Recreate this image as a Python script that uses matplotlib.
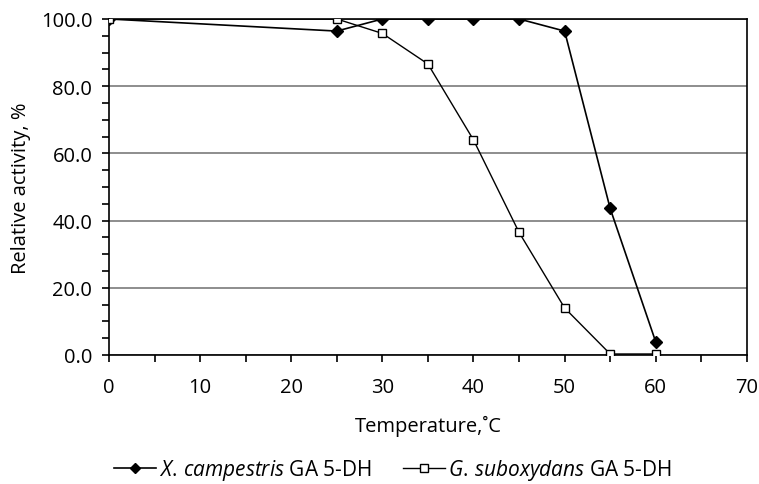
import matplotlib
matplotlib.use('Agg')
import matplotlib.pyplot as plt
from matplotlib.ticker import MultipleLocator, FormatStrFormatter

plt.rcParams['font.family'] = ['Open Sans', 'DejaVu Sans']
plt.rcParams['mathtext.fontset'] = 'custom'
plt.rcParams['mathtext.rm'] = 'Open Sans'
plt.rcParams['mathtext.it'] = 'Open Sans:italic'

temps = [0, 25, 30, 35, 40, 45, 50, 55, 60]
xc_activity = [100.0, 96.4, 100.0, 100.0, 100.0, 100.0, 96.4, 43.6, 3.9]
gs_activity = [100.0, 100.0, 95.7, 86.6, 64.0, 36.5, 14.0, 0.3, 0.3]

fig = plt.figure(figsize=(7.59, 4.85), dpi=100)
ax = fig.add_axes([0.1436, 0.266, 0.8404, 0.6928])

ax.plot(temps, xc_activity, color='black', lw=1.2, marker='D', ms=6,
        mfc='black', mec='black', label='$\\mathit{X.\\,campestris}$ GA 5-DH', zorder=3)
ax.plot(temps, gs_activity, color='black', lw=1.0, marker='s', ms=6,
        mfc='white', mec='black', mew=1.0, label='$\\mathit{G.\\,suboxydans}$ GA 5-DH', zorder=3)

ax.set_xlim(0, 70)
ax.set_ylim(0, 100)
ax.xaxis.set_major_locator(MultipleLocator(10))
ax.xaxis.set_minor_locator(MultipleLocator(5))
ax.yaxis.set_major_locator(MultipleLocator(20))
ax.yaxis.set_minor_locator(MultipleLocator(5))
ax.yaxis.set_major_formatter(FormatStrFormatter('%.1f'))
ax.tick_params(which='both', direction='out', length=5, width=1.2, labelsize=14.5)
ax.tick_params(axis='x', pad=11)
ax.tick_params(axis='y', pad=7)
ax.grid(axis='y', which='major', color='#7a7a7a', lw=1.2)
ax.set_axisbelow(True)
for s in ax.spines.values():
    s.set_color('black')
    s.set_linewidth(1.2)

ax.set_xlabel('Temperature,˚C', fontsize=14.5, labelpad=13)
ax.set_ylabel('Relative activity, %', fontsize=14.5, labelpad=7)

fig.legend(loc='lower center', bbox_to_anchor=(0.518, -0.035), ncol=2, frameon=False,
           fontsize=15, handlelength=2.0, handletextpad=0.15, columnspacing=1.5,
           markerscale=0.85)

fig.savefig('out.png', dpi=100)
